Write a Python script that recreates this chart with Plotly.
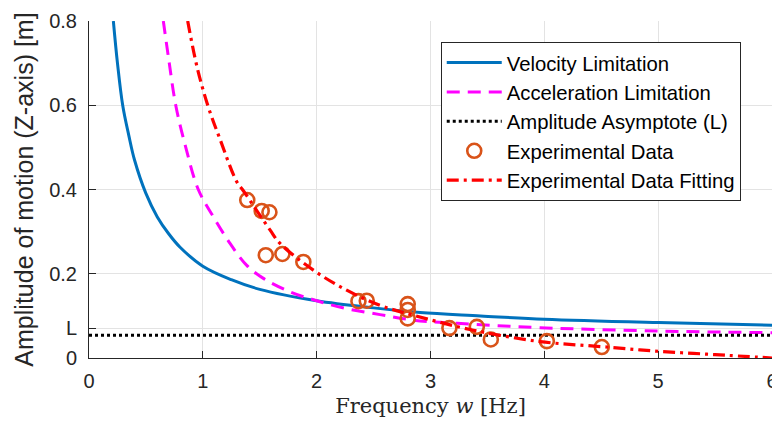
import plotly.graph_objects as go

# Velocity limitation curve
vel_w = [0.214, 0.25, 0.296, 0.35, 0.4, 0.498, 0.6, 0.7, 0.8, 1.0, 1.25, 1.5, 2.0, 2.5, 2.909, 3.44, 4.0, 5.0, 6.0]
vel_z = [0.80, 0.70, 0.60, 0.528, 0.47, 0.392, 0.335, 0.295, 0.263, 0.218, 0.186, 0.163, 0.136, 0.119, 0.108, 0.100, 0.092, 0.084, 0.078]

# Acceleration limitation curve
acc_w = [0.653, 0.70, 0.762, 0.85, 0.96, 1.093, 1.239, 1.386, 1.532, 1.766, 2.0, 2.264, 2.557, 2.85, 3.377, 3.963, 5.0, 6.0]
acc_z = [0.80, 0.71, 0.60, 0.50, 0.40, 0.335, 0.272, 0.220, 0.189, 0.157, 0.136, 0.117, 0.103, 0.090, 0.080, 0.072, 0.064, 0.060]

# Amplitude asymptote
asym_w = [0.0, 6.0]
asym_z = [0.054, 0.054]

# Experimental data
exp_w = [1.39, 1.517, 1.585, 1.553, 1.699, 1.883, 2.367, 2.44, 2.80, 2.80, 2.80, 3.166, 3.407, 3.53, 4.022, 4.505]
exp_z = [0.375, 0.349, 0.346, 0.244, 0.247, 0.228, 0.135, 0.136, 0.128, 0.114, 0.094, 0.071, 0.074, 0.044, 0.040, 0.026]

# Experimental data fitting
fit_w = [0.867, 0.95, 1.043, 1.15, 1.297, 1.356, 1.59, 1.678, 1.971, 2.264, 2.557, 2.85, 3.377, 3.963, 4.5, 5.0, 5.5, 6.0]
fit_z = [0.80, 0.69, 0.60, 0.52, 0.419, 0.397, 0.304, 0.272, 0.2085, 0.161, 0.125, 0.1015, 0.066, 0.039, 0.027, 0.016, 0.008, 0.0]

x_ticks = [0, 1, 2, 3, 4, 5, 6]
y_tick_vals = [0, 0.071, 0.2, 0.4, 0.6, 0.8]
y_tick_text = ["0", "L", "0.2", "0.4", "0.6", "0.8"]

fig = go.Figure()
fig.add_trace(go.Scatter(x=vel_w, y=vel_z, mode="lines", name="Velocity Limitation",
                         line=dict(color="#0072BD", width=3, shape="spline")))
fig.add_trace(go.Scatter(x=acc_w, y=acc_z, mode="lines", name="Acceleration Limitation",
                         line=dict(color="#FF00FF", width=3, dash="13px,8px", shape="spline")))
fig.add_trace(go.Scatter(x=asym_w, y=asym_z, mode="lines", name="Amplitude Asymptote (L)",
                         line=dict(color="black", width=3, dash="3px,3px")))
fig.add_trace(go.Scatter(x=exp_w, y=exp_z, mode="markers", name="Experimental Data",
                         marker=dict(symbol="circle-open", size=14, color="#D95319",
                                     line=dict(width=2.6, color="#D95319"))))
fig.add_trace(go.Scatter(x=fit_w, y=fit_z, mode="lines", name="Experimental Data Fitting",
                         line=dict(color="#FF0000", width=3.2, dash="12px,5px,3px,5px", shape="spline")))

# the page body has an 8px margin, so the figure is sized/offset to compensate
fig.update_layout(
    width=772, height=422,
    margin=dict(l=81, r=8, t=13, b=72, autoexpand=False),
    paper_bgcolor="white", plot_bgcolor="white",
    font=dict(family="Liberation Sans, Arial, sans-serif", size=20, color="#262626"),
    legend=dict(x=0.515, y=0.938, xanchor="left", yanchor="top",
                bgcolor="white", bordercolor="#262626", borderwidth=1,
                font=dict(size=20.3, color="#000000"), tracegroupgap=0, itemwidth=55),
    showlegend=True,
)
fig.update_xaxes(range=[0, 6], tickvals=x_ticks, ticks="inside", ticklen=7,
                 tickcolor="#262626", showline=True, linecolor="#262626", linewidth=1,
                 showgrid=True, gridcolor="#e3e3e3", gridwidth=1, zeroline=False,
                 automargin=True, ticklabelstandoff=5,
                 tickfont=dict(size=20, color="#262626"),
                 title=dict(text="Frequency <i>w</i> [Hz]", standoff=7,
                            font=dict(family="DejaVu Serif, Liberation Serif, serif", size=21, color="#262626")))
fig.update_yaxes(range=[0, 0.8], tickvals=y_tick_vals, ticktext=y_tick_text, ticks="inside", ticklen=7,
                 tickcolor="#262626", showline=True, linecolor="#262626", linewidth=1,
                 showgrid=True, gridcolor="#e3e3e3", gridwidth=1, zeroline=False,
                 automargin=True, ticklabelstandoff=7,
                 tickfont=dict(size=20, color="#262626"),
                 title=dict(text="Amplitude of motion (Z-axis) [m]", standoff=8,
                            font=dict(size=25, color="#262626")))

fig.write_html("out.html")
